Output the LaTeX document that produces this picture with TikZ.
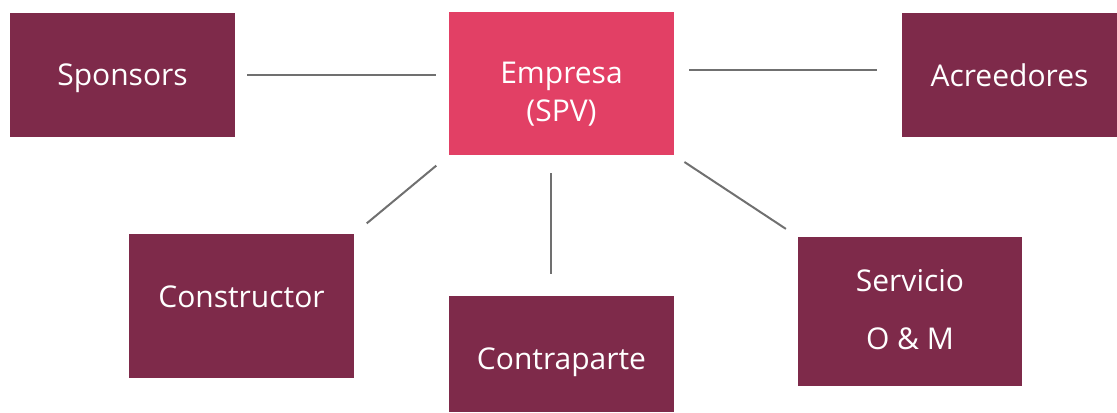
\documentclass[tikz,border=0pt]{standalone}
\usepackage{fontspec}
\setmainfont{Open Sans}
\usepackage{tikz}
\usetikzlibrary{calc}
\definecolor{vino}{RGB}{126,42,74}
\definecolor{rosa}{RGB}{226,64,101}
\definecolor{gris}{RGB}{112,112,112}
\tikzstyle{party}=[rectangle,fill=vino,text=white,inner sep=0pt,align=center,font=\fontsize{15}{18}\selectfont]
\tikzstyle{hub}=[party,fill=rosa]
\tikzstyle{link}=[draw=gris,line width=1pt]

\begin{document}
\begin{tikzpicture}[x=0.5pt,y=-0.5pt]

    \useasboundingbox (0,0) rectangle (1117,412);

    \node[party,minimum width=112.5pt,minimum height=62pt] (sponsors) at (122.5,75) {\raisebox{-5.35pt}[0pt][0pt]{Sponsors}};
    \node[hub,minimum width=112.5pt,minimum height=71.5pt] (empresa) at (561.5,83.5) {\raisebox{-9.5pt}[0pt][0pt]{\begin{tabular}{@{}c@{}}Empresa\\[1.25pt](SPV)\end{tabular}}};
    \node[party,minimum width=107.5pt,minimum height=62pt] (acreedores) at (1009.5,75) {\raisebox{-5.85pt}[0pt][0pt]{Acreedores}};
    \node[party,minimum width=112.5pt,minimum height=72pt] (constructor) at (241.5,306) {\raisebox{-0.85pt}[0pt][0pt]{Constructor}};
    \node[party,minimum width=112.5pt,minimum height=58pt] (contraparte) at (561.5,354) {\raisebox{-7.85pt}[0pt][0pt]{Contraparte}};
    \node[party,minimum width=112pt,minimum height=74.5pt] (servicio) at (910,311.5) {\raisebox{-4.6pt}[0pt][0pt]{\begin{tabular}{@{}c@{}}Servicio\\[11pt]O \& M\end{tabular}}};

    \draw[link,shorten <=6pt,shorten >=6.5pt] (sponsors.east) -- (sponsors.east -| empresa.west) ;
    \draw[link,shorten <=7.5pt,shorten >=12.5pt] ([yshift=6.75pt]empresa.east) -- ([yshift=6.75pt]empresa.east -| acreedores.west) ;
    \draw[link,shorten <=8pt,shorten >=8pt] (constructor.north east) -- (empresa.south west) ;
    \draw[link,shorten <=9pt,shorten >=11pt] ([xshift=-5.25pt]empresa.south) -- ([xshift=-5.25pt]contraparte.north) ;
    \draw[link,shorten <=6pt,shorten >=7pt] (empresa.south east) -- (servicio.north west) ;
  \end{tikzpicture}
\end{document}
